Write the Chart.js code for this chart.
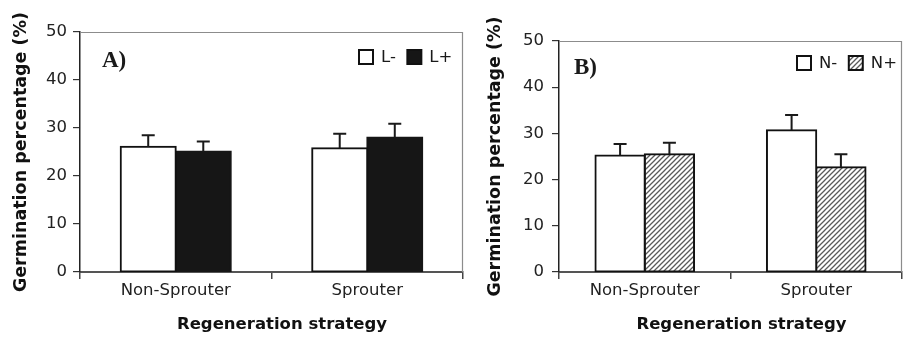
<!DOCTYPE html>
<html><head><meta charset="utf-8">
<script src="https://cdn.jsdelivr.net/npm/chart.js@4.4.1/dist/chart.umd.min.js"></script>
<style>
html,body{margin:0;padding:0;background:#fff;}
#wrap{position:relative;width:903px;height:340px;overflow:hidden;background:#fff;}
#ca{position:absolute;left:0;top:0;}
#cb{position:absolute;left:470px;top:0;}
</style></head><body>
<div id="wrap">
<canvas id="ca" width="470" height="340"></canvas>
<canvas id="cb" width="433" height="340"></canvas>
</div>
<script>
// ---- data ----
const categories = ['Non-Sprouter', 'Sprouter'];
const yTicks = [0, 10, 20, 30, 40, 50];
const yTitle = 'Germination percentage (%)';
const xTitle = 'Regeneration strategy';

const panelATag = 'A)';
const panelALabels = ['L-', 'L+'];
const lMinus = [26.1, 25.8];
const lMinusErr = [2.4, 3.0];
const lPlus = [25.1, 28.0];
const lPlusErr = [2.1, 2.9];

const panelBTag = 'B)';
const panelBLabels = ['N-', 'N+'];
const nMinus = [25.2, 30.7];
const nMinusErr = [2.5, 3.3];
const nPlus = [25.5, 22.7];
const nPlusErr = [2.5, 2.8];

// ---- styling ----
const FONT = '"DejaVu Sans", "Liberation Sans", Arial, sans-serif';

function hatchPattern(ctx) {
  const c = document.createElement('canvas');
  c.width = 5; c.height = 5;
  const g = c.getContext('2d');
  g.fillStyle = '#fff'; g.fillRect(0, 0, 5, 5);
  g.strokeStyle = '#5a5a5a'; g.lineWidth = 1.3;
  g.beginPath();
  g.moveTo(-1, 6); g.lineTo(6, -1);
  g.moveTo(-1, 1); g.lineTo(1, -1);
  g.moveTo(4, 6); g.lineTo(6, 4);
  g.stroke();
  return ctx.createPattern(c, 'repeat');
}

const deco = {
  id: 'deco',
  beforeDatasetsDraw(chart) {
    const { ctx, chartArea: a } = chart;
    ctx.save();
    ctx.strokeStyle = '#8c8c8c';
    ctx.lineWidth = 1.2;
    ctx.beginPath();
    ctx.moveTo(a.left, a.top + 0.5);
    ctx.lineTo(a.right - 0.5, a.top + 0.5);
    ctx.lineTo(a.right - 0.5, a.bottom);
    ctx.stroke();
    ctx.restore();
  },
  afterDatasetsDraw(chart, args, o) {
    const { ctx, chartArea: a } = chart;
    const ys = chart.scales.y;
    ctx.save();
    // error bars (upper only)
    chart.data.datasets.forEach((ds, i) => {
      const meta = chart.getDatasetMeta(i);
      meta.data.forEach((el, j) => {
        const top = ys.getPixelForValue(ds.data[j] + ds.errors[j]);
        ctx.strokeStyle = '#1a1a1a';
        ctx.lineWidth = 2;
        ctx.beginPath();
        ctx.moveTo(el.x, el.y);
        ctx.lineTo(el.x, top);
        ctx.moveTo(el.x - 6.5, top);
        ctx.lineTo(el.x + 6.5, top);
        ctx.stroke();
      });
    });
    // panel tag
    ctx.fillStyle = '#1a1a1a';
    ctx.font = 'bold 23px "Liberation Serif", "Times New Roman", serif';
    ctx.textAlign = 'left';
    ctx.textBaseline = 'alphabetic';
    ctx.fillText(o.tag, a.left + o.tagDx, a.top + o.tagDy);
    // legend
    let x = a.right + o.legDx;
    const cy = a.top + o.legDy;
    ctx.font = '16.5px ' + FONT;
    ctx.textBaseline = 'middle';
    chart.data.datasets.forEach(ds => {
      ctx.fillStyle = ds.backgroundColor;
      ctx.fillRect(x + 1, cy - 7, 14, 14);
      ctx.strokeStyle = '#111';
      ctx.lineWidth = 2;
      ctx.strokeRect(x + 1, cy - 7, 14, 14);
      ctx.fillStyle = '#1a1a1a';
      ctx.fillText(ds.label, x + 23, cy + 1);
      x += 23 + ctx.measureText(ds.label).width + 10.5;
    });
    // x axis title
    ctx.font = 'bold 16.5px ' + FONT;
    ctx.textAlign = 'center';
    ctx.textBaseline = 'alphabetic';
    ctx.fillStyle = '#111';
    ctx.fillText(xTitle, (a.left + a.right) / 2 + o.xtDx, o.xtY);
    ctx.restore();
  }
};

function makeChart(id, cfg) {
  return new Chart(document.getElementById(id), {
    type: 'bar',
    data: { labels: categories, datasets: cfg.datasets },
    options: {
      responsive: false,
      animation: false,
      devicePixelRatio: 1,
      layout: { padding: { left: 0, top: cfg.top, right: cfg.right, bottom: 0 } },
      datasets: { bar: { categoryPercentage: 0.575, barPercentage: 1, inflateAmount: 1 } },
      plugins: { legend: { display: false }, tooltip: { enabled: false }, deco: cfg.deco },
      scales: {
        x: {
          offset: true,
          grid: { display: true, drawOnChartArea: false, offset: true, tickLength: 7, color: '#444', lineWidth: 1.5 },
          border: { color: '#555', width: 2 },
          ticks: { font: { family: FONT, size: 16.5 }, color: '#222', padding: 2, maxRotation: 0 },
          afterFit(s) { s.height = 68; }
        },
        y: {
          min: 0, max: 50,
          afterBuildTicks(s) { s.ticks = yTicks.map(v => ({ value: v })); },
          ticks: { font: { family: FONT, size: 16.5 }, color: '#222', padding: cfg.yPad },
          grid: { drawOnChartArea: false, tickLength: 7, color: '#333', lineWidth: 1.2 },
          border: { color: '#222', width: 1.5 },
          title: { display: true, text: yTitle, font: { family: FONT, size: 17.5, weight: 'bold' }, color: '#111', padding: { top: cfg.ytPad, bottom: 0 } },
          afterFit(s) { s.width = cfg.yWidth; }
        }
      }
    },
    plugins: [deco]
  });
}

makeChart('ca', {
  top: 32, right: 7, yWidth: 80, yPad: 6, ytPad: 11,
  deco: { tag: panelATag, tagDx: 22, tagDy: 35, legDx: -105, legDy: 25, xtDx: 10.5, xtY: 329 },
  datasets: [
    { label: panelALabels[0], data: lMinus, errors: lMinusErr, backgroundColor: '#ffffff', borderColor: '#111', borderWidth: 2, borderSkipped: false },
    { label: panelALabels[1], data: lPlus, errors: lPlusErr, backgroundColor: '#161616', borderColor: '#161616', borderWidth: 2, borderSkipped: false }
  ]
});

const ctxB = document.getElementById('cb').getContext('2d');
makeChart('cb', {
  top: 41, right: 1, yWidth: 89, yPad: 8, ytPad: 15,
  deco: { tag: panelBTag, tagDx: 15, tagDy: 33, legDx: -106, legDy: 22, xtDx: 11, xtY: 329 },
  datasets: [
    { label: panelBLabels[0], data: nMinus, errors: nMinusErr, backgroundColor: '#ffffff', borderColor: '#111', borderWidth: 2, borderSkipped: false },
    { label: panelBLabels[1], data: nPlus, errors: nPlusErr, backgroundColor: hatchPattern(ctxB), borderColor: '#111', borderWidth: 2, borderSkipped: false }
  ]
});
</script>
</body></html>
